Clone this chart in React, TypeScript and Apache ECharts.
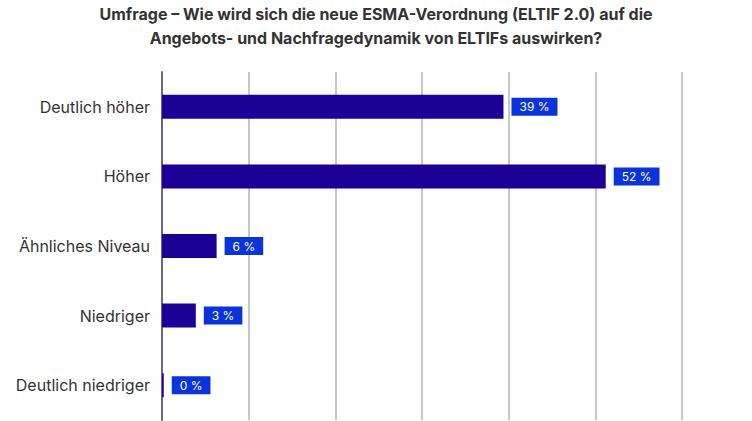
import React, { useEffect, useRef } from "react";
import * as echarts from "echarts";

const categories = ["Deutlich höher", "Höher", "Ähnliches Niveau", "Niedriger", "Deutlich niedriger"];
const values = [39.4, 51.2, 6.3, 3.9, 0.2];
const valueLabels = ["39 %", "52 %", "6 %", "3 %", "0 %"];
const titleLines = [
  "Umfrage – Wie wird sich die neue ESMA-Verordnung (ELTIF 2.0) auf die",
  "Angebots- und Nachfragedynamik von ELTIFs auswirken?",
];

export default function App() {
  const ref = useRef<HTMLDivElement>(null);
  useEffect(() => {
    document.body.style.margin = "0";
    if (!ref.current) return;
    const chart = echarts.init(ref.current, undefined, { renderer: "svg" });
    chart.setOption({
      animation: false,
      textStyle: { fontFamily: "Inter" },
      graphic: [
        {
          type: "text",
          x: 376,
          y: 26,
          style: {
            text: titleLines.join("\n"),
            fill: "#333333",
            fontFamily: "Inter",
            fontSize: 16,
            fontWeight: "bold",
            lineHeight: 24,
            align: "center",
            verticalAlign: "middle",
          },
        },
      ],
      grid: { left: 162, right: 70, top: 72, height: 348, containLabel: false },
      xAxis: {
        type: "value",
        min: 0,
        max: 60,
        interval: 10,
        axisLabel: { show: false },
        axisLine: { show: false },
        axisTick: { show: false },
        splitLine: { show: true, lineStyle: { color: "#b4b2bc", width: 1.5 } },
      },
      yAxis: {
        type: "category",
        inverse: true,
        data: categories,
        axisLine: { show: true, lineStyle: { color: "#6c6880", width: 2 } },
        axisTick: { show: false },
        axisLabel: { color: "#333333", fontSize: 16, fontFamily: "Inter", margin: 12 },
      },
      series: [
        {
          type: "bar",
          data: values.map((v, i) => ({ value: v, label: { formatter: valueLabels[i] } })),
          barWidth: 24,
          itemStyle: { color: "#1d0096" },
          label: {
            show: true,
            position: "right",
            distance: 8,
            color: "#ffffff",
            fontSize: 12,
            fontFamily: "Inter",
            backgroundColor: "#0a33d9",
            padding: [3, 8, 3, 8],
            lineHeight: 12,
          },
        },
      ],
    });
    return () => chart.dispose();
  }, []);
  return <div ref={ref} style={{ width: 752, height: 421 }} />;
}
